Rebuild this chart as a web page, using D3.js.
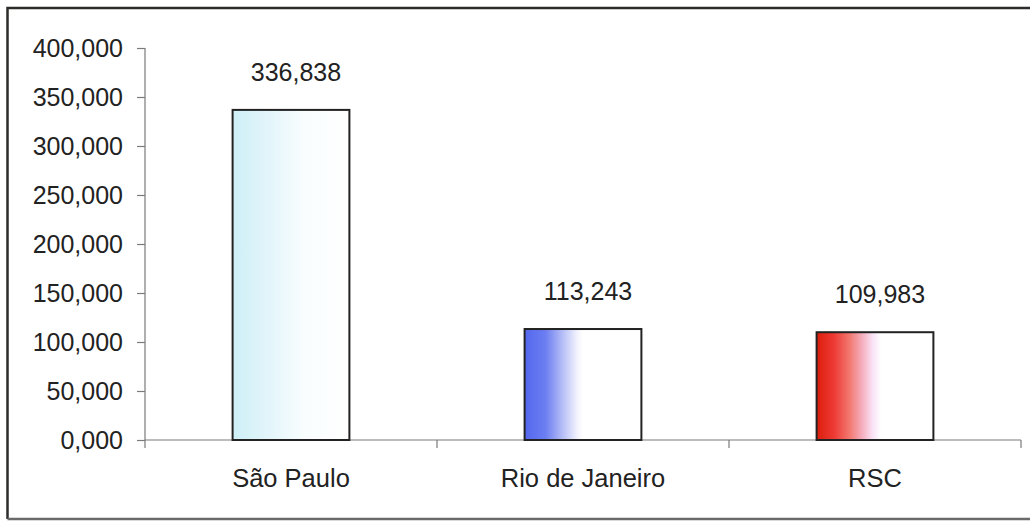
<!DOCTYPE html>
<html>
<head>
<meta charset="utf-8">
<script src="https://cdn.jsdelivr.net/npm/d3@7"></script>
<style>
  html, body { margin: 0; padding: 0; background: #fff; }
  svg { display: block; }
  text { font-family: "Liberation Sans", Arial, sans-serif; fill: #222; }
</style>
</head>
<body>
<svg id="chart" width="1030" height="521"></svg>
<script>
// Population by metropolitan region (thousands, comma as decimal separator)
const categories = ["São Paulo", "Rio de Janeiro", "RSC"];
const values = [336.838, 113.243, 109.983];
const yTicks = [0, 50, 100, 150, 200, 250, 300, 350, 400];

// Brazilian number formatting: "336,838"
const ptBR = d3.formatLocale({ decimal: ",", thousands: ".", grouping: [3], currency: ["R$", ""] });
const fmt = ptBR.format(".3f");

const svg = d3.select("#chart");
const plot = { left: 145, right: 1021, top: 48, bottom: 440 };
const fontSize = 25;

// Outer frame (left, top and bottom edges; right runs off the canvas)
svg.append("path")
  .attr("d", `M1031,8 L7.5,8 L7.5,519`)
  .attr("fill", "none")
  .attr("stroke", "#2c2c2a")
  .attr("stroke-width", 2.5);
svg.append("line")
  .attr("x1", 7.5).attr("x2", 1031).attr("y1", 519).attr("y2", 519)
  .attr("stroke", "#6a6a6a")
  .attr("stroke-width", 2.5);

const x = d3.scaleBand().domain(categories).range([plot.left, plot.right]).padding(0);
const y = d3.scaleLinear().domain([0, 400]).range([plot.bottom, plot.top]);

// Bar fills: horizontal gradients fading to white
const gradients = [
  [[0, "#cdeff7"], [0.3, "#e2f5fa"], [0.6, "#f8fdfe"], [1, "#ffffff"]],
  [[0, "#5468ee"], [0.18, "#6c7ef1"], [0.32, "#b3bcf6"], [0.45, "#f2f3fd"], [0.5, "#ffffff"], [1, "#ffffff"]],
  [[0, "#dc1e0c"], [0.15, "#ee3a35"], [0.28, "#f2776e"], [0.38, "#f4a9b8"], [0.48, "#f9e2f6"], [0.55, "#ffffff"], [1, "#ffffff"]]
];
const defs = svg.append("defs");
gradients.forEach((stops, i) => {
  const g = defs.append("linearGradient").attr("id", "grad" + i)
    .attr("x1", "0%").attr("x2", "100%").attr("y1", "0%").attr("y2", "0%");
  stops.forEach(([o, c]) => g.append("stop").attr("offset", o).attr("stop-color", c));
});

// Y axis
const yAxis = svg.append("g")
  .attr("transform", `translate(${plot.left},0)`)
  .call(d3.axisLeft(y).tickValues(yTicks).tickFormat(fmt).tickSize(8).tickPadding(14));
yAxis.select(".domain").attr("stroke", "#7a7a7a").attr("stroke-width", 1.2)
  .attr("d", `M0,${plot.top}V${plot.bottom + 8}`);
yAxis.selectAll(".tick line").attr("stroke", "#7a7a7a").attr("stroke-width", 1.2);
yAxis.selectAll(".tick text").attr("font-size", fontSize).attr("fill", "#222")
  .attr("font-family", "Liberation Sans, Arial, sans-serif");

// X axis with tick marks between categories
const xAxis = svg.append("g").attr("transform", `translate(0,${plot.bottom})`);
xAxis.append("line")
  .attr("x1", plot.left).attr("x2", plot.right)
  .attr("stroke", "#7a7a7a").attr("stroke-width", 1.2);
const boundaries = categories.map(c => x(c) + x.bandwidth());
xAxis.selectAll("line.sep").data(boundaries).join("line").attr("class", "sep")
  .attr("x1", d => d).attr("x2", d => d).attr("y1", 0).attr("y2", 8)
  .attr("stroke", "#7a7a7a").attr("stroke-width", 1.2);
xAxis.selectAll("text").data(categories).join("text")
  .attr("x", d => x(d) + x.bandwidth() / 2)
  .attr("y", 47)
  .attr("text-anchor", "middle")
  .attr("font-size", fontSize + 0.5)
  .text(d => d);

// Bars
const barW = x.bandwidth() * 0.4;
svg.selectAll("rect.bar").data(values).join("rect").attr("class", "bar")
  .attr("x", (d, i) => x(categories[i]) + (x.bandwidth() - barW) / 2)
  .attr("y", d => y(d))
  .attr("width", barW)
  .attr("height", d => y(0) - y(d))
  .attr("fill", (d, i) => `url(#grad${i})`)
  .attr("stroke", "#222")
  .attr("stroke-width", 2);

// Value labels
svg.selectAll("text.val").data(values).join("text").attr("class", "val")
  .attr("x", (d, i) => x(categories[i]) + x.bandwidth() / 2 + 5)
  .attr("y", d => y(d) - 29)
  .attr("text-anchor", "middle")
  .attr("font-size", fontSize)
  .text(d => fmt(d));
</script>
</body>
</html>
